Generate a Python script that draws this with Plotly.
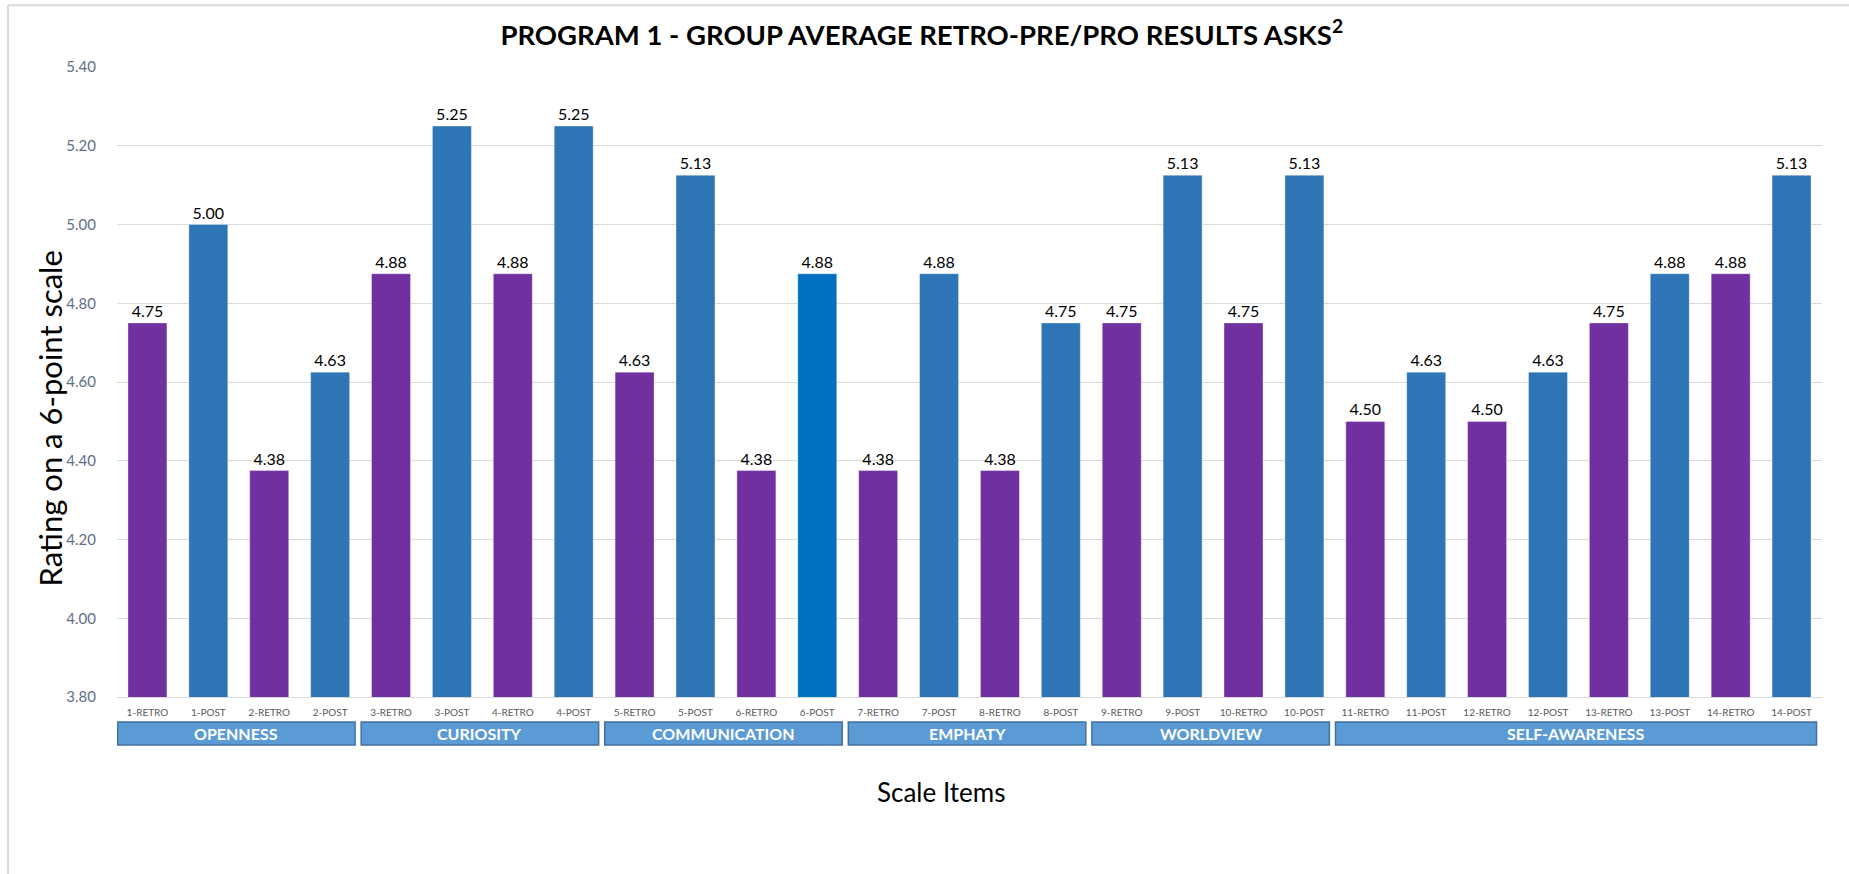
import plotly.graph_objects as go

# data
items = [f"{i}-{k}" for i in range(1, 15) for k in ("RETRO", "POST")]
values = [4.75, 5.00, 4.375, 4.625, 4.875, 5.25, 4.875, 5.25,
          4.625, 5.125, 4.375, 4.875, 4.375, 4.875, 4.375, 4.75,
          4.75, 5.125, 4.75, 5.125, 4.50, 4.625, 4.50, 4.625,
          4.75, 4.875, 4.875, 5.125]
groups = ["OPENNESS", "CURIOSITY", "COMMUNICATION", "EMPHATY", "WORLDVIEW", "SELF-AWARENESS"]
group_sizes = [4, 4, 4, 4, 4, 8]
y_ticks = [3.80, 4.00, 4.20, 4.40, 4.60, 4.80, 5.00, 5.20, 5.40]

PURPLE = "#7030A0"
BLUE = "#2E75B6"
colors = [PURPLE if "RETRO" in it else BLUE for it in items]
colors[items.index("6-POST")] = "#0070C0"

fig = go.Figure(go.Bar(
    x=list(range(len(items))),
    y=values,
    marker=dict(color=colors, line=dict(color="rgba(255,255,255,0.35)", width=1)),
    texttemplate="%{y:.2f}",
    textposition="outside",
    textfont=dict(size=16, color="black", family="Lato"),
    cliponaxis=False,
))

fig.update_yaxes(range=[3.80, 5.40], tickvals=y_ticks, tickformat=".2f",
                 showgrid=True, gridcolor="#d9d9d9", gridwidth=1, zeroline=False,
                 tickfont=dict(size=15, color="#5f6f86", family="Lato"),
                 ticklabelstandoff=20, automargin=False)
fig.update_xaxes(range=[-0.5, len(items) - 0.5],
                 tickvals=list(range(len(items))), ticktext=items,
                 tickfont=dict(size=10, color="#595959", family="Lato"),
                 ticklabelstandoff=6, automargin=False,
                 showline=True, linecolor="#d9d9d9", linewidth=1,
                 showgrid=False, zeroline=False)

shapes = []
annotations = []
start = 0
for name, n in zip(groups, group_sizes):
    x0, x1 = start - 0.49, start + n - 1 + 0.41
    shapes.append(dict(type="rect", xref="x", yref="paper", x0=x0, x1=x1,
                       y0=-0.0397, y1=-0.0762, fillcolor="#5B9BD5",
                       line=dict(color="#41719C", width=1.5), layer="above"))
    annotations.append(dict(xref="x", yref="paper", x=(x0 + x1) / 2, y=-0.058,
                            text=f"<b>{name}</b>", showarrow=False, yanchor="middle",
                            font=dict(size=16, color="white", family="Lato")))
    start += n

# outer chart frame (top and left edges)
shapes.append(dict(type="line", xref="paper", yref="paper", x0=-0.0639, x1=1.1,
                   y0=1.098, y1=1.098, line=dict(color="#d9d9d9", width=2)))
shapes.append(dict(type="line", xref="paper", yref="paper", x0=-0.0639, x1=-0.0639,
                   y0=1.098, y1=-0.3, line=dict(color="#d9d9d9", width=2)))

annotations.append(dict(xref="paper", yref="paper", x=0.4833, y=-0.151,
                        text="Scale Items", showarrow=False, yanchor="middle",
                        font=dict(size=26, color="black", family="Lato")))
annotations.append(dict(xref="paper", yref="paper", x=-0.0393, y=0.442,
                        text="Rating on a 6-point scale", showarrow=False,
                        textangle=-90, xanchor="center", yanchor="middle",
                        font=dict(size=31, color="black", family="Lato")))

fig.update_layout(
    width=1849, height=874,
    margin=dict(l=117, r=27, t=67, b=177),
    plot_bgcolor="white", paper_bgcolor="white",
    bargap=0.36,
    showlegend=False,
    title=dict(text="<b>PROGRAM 1 - GROUP AVERAGE RETRO-PRE/PRO RESULTS ASKS<sup>2</sup></b>",
               x=0.472, xref="paper", y=0.96, yanchor="middle",
               font=dict(size=27.5, color="black", family="Lato")),
    shapes=shapes,
    annotations=annotations,
)

fig.write_html("out.html", config={"displayModeBar": False},
               post_script="document.body.style.margin='0';")
